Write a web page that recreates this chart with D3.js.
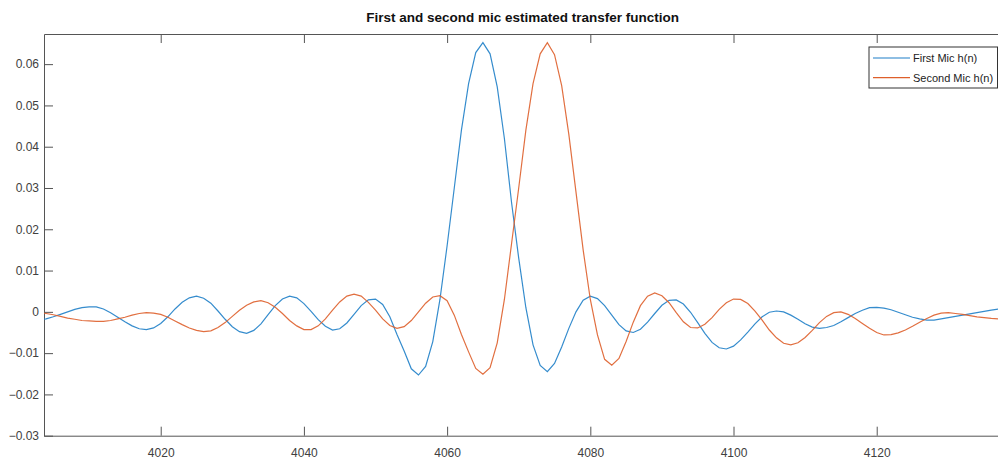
<!DOCTYPE html>
<html>
<head>
<meta charset="utf-8">
<script src="https://cdn.jsdelivr.net/npm/d3@7"></script>
<style>
  body { margin: 0; background: #fff; }
  svg { display: block; font-family: "Liberation Sans", Arial, sans-serif; }
  .axis text { fill: #404040; font-size: 12px; }
  .axis path, .axis line { stroke: #555; }
</style>
</head>
<body>
<svg id="chart"></svg>
<script>
// sample index n (first value is n = 4003)
const firstSample = 4003;
const firstMic = [
  -0.0019, -0.0017, -0.0012, -0.0006, 0.0000, 0.0006, 0.0010, 0.0012, 0.0012, 0.0007,
  -0.0002, -0.0013, -0.0024, -0.0034, -0.0041, -0.0043, -0.0039, -0.0028, -0.0012, 0.0007,
  0.0023, 0.0034, 0.0038, 0.0033, 0.0021, 0.0002, -0.0018, -0.0036, -0.0048, -0.0052,
  -0.0045, -0.0029, -0.0007, 0.0015, 0.0031, 0.0038, 0.0034, 0.0020, 0.0001, -0.0019,
  -0.0035, -0.0044, -0.0041, -0.0027, -0.0006, 0.0015, 0.0029, 0.0031, 0.0018, -0.0012,
  -0.0055, -0.0095, -0.0138, -0.0153, -0.0132, -0.0072, 0.0030, 0.0160, 0.0300, 0.0440,
  0.0553, 0.0628, 0.0652, 0.0625, 0.0545, 0.0420, 0.0265, 0.0130, 0.0010, -0.0080,
  -0.0130, -0.0145, -0.0125, -0.0085, -0.0040, 0.0000, 0.0028, 0.0038, 0.0032, 0.0015,
  -0.0008, -0.0031, -0.0046, -0.0050, -0.0042, -0.0025, -0.0004, 0.0016, 0.0028, 0.0029,
  0.0019, -0.0001, -0.0026, -0.0052, -0.0074, -0.0087, -0.0090, -0.0083, -0.0068, -0.0049,
  -0.0029, -0.0012, -0.0001, 0.0002, 0.0000, -0.0008, -0.0018, -0.0029, -0.0037, -0.0040,
  -0.0038, -0.0033, -0.0024, -0.0014, -0.0004, 0.0004, 0.0010, 0.0011, 0.0009, 0.0005,
  -0.0001, -0.0007, -0.0013, -0.0017, -0.0020, -0.0020, -0.0017, -0.0014, -0.0011, -0.0008,
  -0.0005, -0.0002, 0.0001, 0.0004, 0.0007, 0.0010
];
const secondMic = [
  -0.0002, -0.0004, -0.0007, -0.0011, -0.0015, -0.0018, -0.0021, -0.0022, -0.0023, -0.0023,
  -0.0021, -0.0017, -0.0013, -0.0008, -0.0004, -0.0002, -0.0003, -0.0006, -0.0013, -0.0022,
  -0.0031, -0.0039, -0.0045, -0.0048, -0.0046, -0.0038, -0.0026, -0.0011, 0.0004, 0.0016,
  0.0024, 0.0027, 0.0022, 0.0011, -0.0004, -0.0021, -0.0034, -0.0043, -0.0043, -0.0034,
  -0.0017, 0.0004, 0.0024, 0.0038, 0.0043, 0.0038, 0.0023, 0.0004, -0.0017, -0.0033,
  -0.0040, -0.0036, -0.0021, 0.0000, 0.0021, 0.0036, 0.0039, 0.0027, -0.0008, -0.0055,
  -0.0097, -0.0137, -0.0151, -0.0135, -0.0075, 0.0030, 0.0165, 0.0300, 0.0440, 0.0553,
  0.0625, 0.0652, 0.0623, 0.0548, 0.0430, 0.0290, 0.0150, 0.0030, -0.0056, -0.0115,
  -0.0129, -0.0113, -0.0072, -0.0025, 0.0015, 0.0038, 0.0046, 0.0039, 0.0022, -0.0002,
  -0.0024, -0.0038, -0.0039, -0.0030, -0.0014, 0.0006, 0.0022, 0.0031, 0.0030, 0.0020,
  0.0002, -0.0020, -0.0044, -0.0063, -0.0076, -0.0080, -0.0075, -0.0062, -0.0045, -0.0026,
  -0.0011, -0.0002, 0.0000, -0.0006, -0.0016, -0.0028, -0.0040, -0.0050, -0.0056, -0.0055,
  -0.0051, -0.0044, -0.0035, -0.0025, -0.0016, -0.0008, -0.0003, -0.0002, -0.0004, -0.0006,
  -0.0009, -0.0012, -0.0014, -0.0016, -0.0017, -0.0018
];
const xTicks = [4020, 4040, 4060, 4080, 4100, 4120];
const yTicks = [-0.03, -0.02, -0.01, 0, 0.01, 0.02, 0.03, 0.04, 0.05, 0.06];
const seriesNames = ["First Mic h(n)", "Second Mic h(n)"];
const seriesColors = ["#1f7fc8", "#de5f2b"];

const W = 998, H = 461;
const mLeft = 44, mTop = 34, mBottom = 435.7, mRight = 1001.3;

const svg = d3.select("#chart").attr("width", W).attr("height", H);

const x = d3.scaleLinear().domain([4003.7, 4137.4]).range([mLeft, mRight]);
const y = d3.scaleLinear().domain([-0.03, 0.0673]).range([mBottom, mTop]);

svg.append("defs").append("clipPath").attr("id", "plot-clip")
  .append("rect")
  .attr("x", mLeft).attr("y", mTop)
  .attr("width", mRight - mLeft).attr("height", mBottom - mTop);

// axes (ticks point inward like matlab)
svg.append("g")
  .attr("class", "axis")
  .attr("transform", `translate(0,${mBottom})`)
  .call(d3.axisBottom(x).tickValues(xTicks).tickSizeInner(-9).tickSizeOuter(0).tickPadding(13).tickFormat(d3.format("d")));

svg.append("g")
  .attr("class", "axis")
  .attr("transform", `translate(0,${mTop})`)
  .call(d3.axisTop(x).tickValues(xTicks).tickSizeInner(-9).tickSizeOuter(0).tickFormat(""));

svg.append("g")
  .attr("class", "axis")
  .attr("transform", `translate(${mLeft},0)`)
  .call(d3.axisLeft(y).tickValues(yTicks).tickSizeInner(-9).tickSizeOuter(0).tickPadding(5)
    .tickFormat(d => d === 0 ? "0" : d3.format(".2f")(d)));

svg.selectAll(".axis .domain").attr("stroke", "#555");

// lines
const line = d3.line()
  .x((d, i) => x(firstSample + i))
  .y(d => y(d));

const plot = svg.append("g").attr("clip-path", "url(#plot-clip)");
[firstMic, secondMic].forEach((vals, k) => {
  plot.append("path")
    .datum(vals)
    .attr("fill", "none")
    .attr("stroke", seriesColors[k])
    .attr("stroke-opacity", 0.9)
    .attr("stroke-width", 1.2)
    .attr("d", line);
});

// title
svg.append("text")
  .attr("x", (mLeft + mRight) / 2)
  .attr("y", 22)
  .attr("text-anchor", "middle")
  .style("font-size", "13.5px")
  .style("font-weight", "bold")
  .style("fill", "#111")
  .text("First and second mic estimated transfer function");

// legend
const legend = svg.append("g").attr("transform", "translate(869,47)");
legend.append("rect")
  .attr("width", 128.5).attr("height", 41)
  .attr("fill", "#fff")
  .attr("stroke", "#333")
  .attr("stroke-width", 1);

seriesNames.forEach((name, i) => {
  const cy = 11 + i * 19.7;
  legend.append("line")
    .attr("x1", 4).attr("x2", 41)
    .attr("y1", cy).attr("y2", cy)
    .attr("stroke", seriesColors[i])
    .attr("stroke-width", 1.2);
  legend.append("text")
    .attr("x", 44).attr("y", cy + 4)
    .style("font-size", "11px")
    .style("fill", "#222")
    .text(name);
});
</script>
</body>
</html>
